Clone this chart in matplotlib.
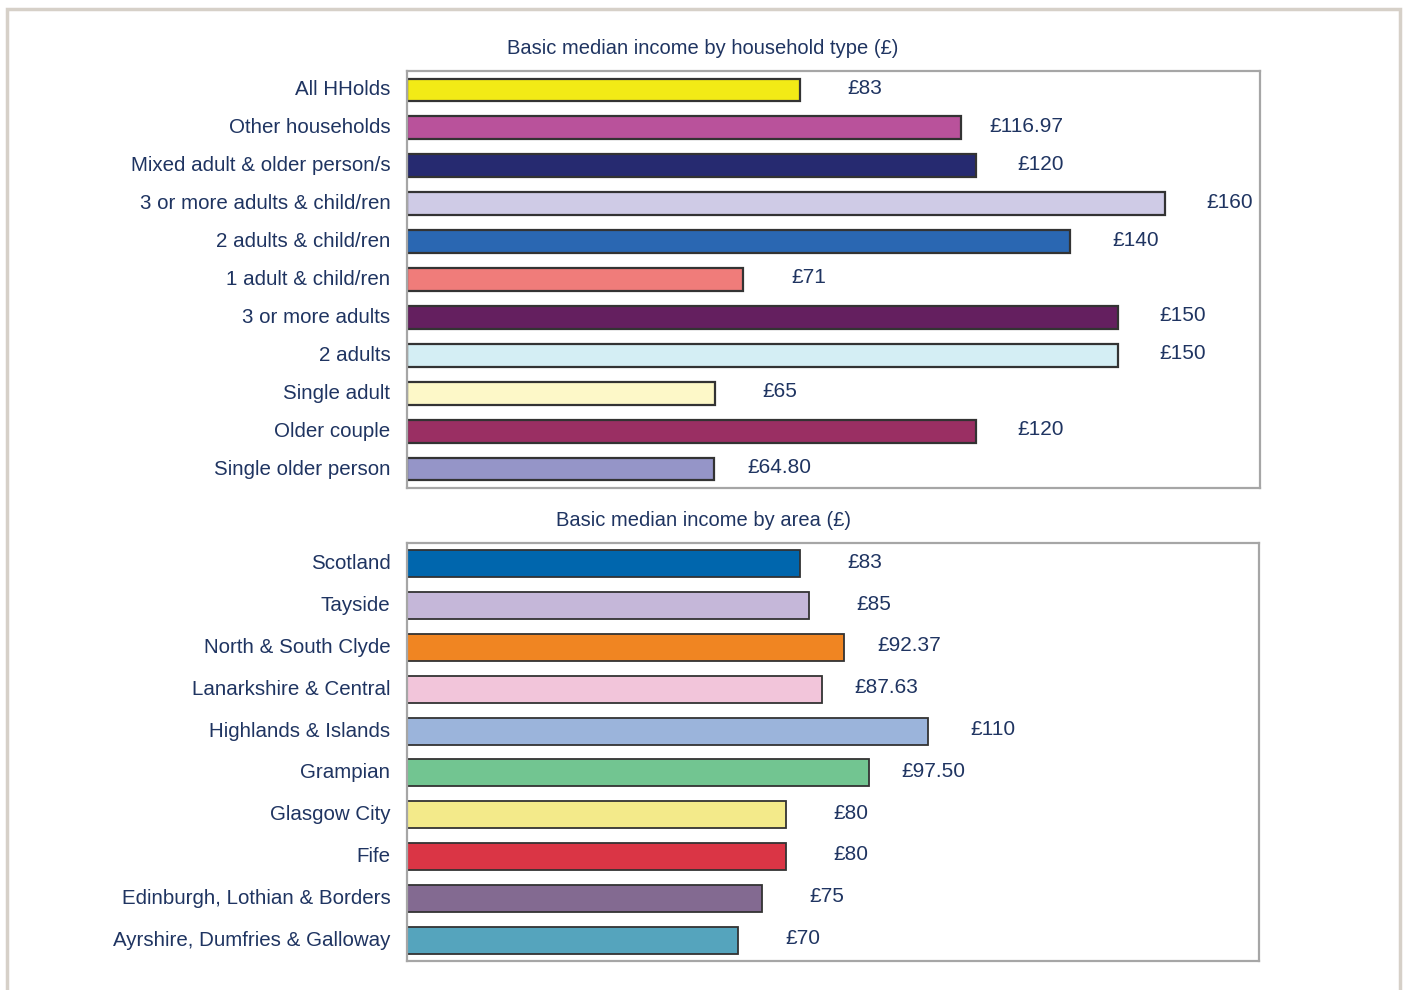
import matplotlib
matplotlib.use("Agg")
import matplotlib.pyplot as plt
from matplotlib.patches import Rectangle

# ---------- data ----------
hh_categories = ["All HHolds", "Other households", "Mixed adult & older person/s",
                 "3 or more adults & child/ren", "2 adults & child/ren", "1 adult & child/ren",
                 "3 or more adults", "2 adults", "Single adult", "Older couple",
                 "Single older person"]
hh_values = [83, 116.97, 120, 160, 140, 71, 150, 150, 65, 120, 64.80]
hh_labels = ["£83", "£116.97", "£120", "£160", "£140", "£71", "£150", "£150", "£65",
             "£120", "£64.80"]
hh_colors = ["#f2ea16", "#b9529b", "#262a70", "#cfcbe6", "#2a67b2", "#f07c7a",
             "#641f5f", "#d4eef4", "#fdf8c8", "#9a2f63", "#9595c8"]

area_categories = ["Scotland", "Tayside", "North & South Clyde", "Lanarkshire & Central",
                   "Highlands & Islands", "Grampian", "Glasgow City", "Fife",
                   "Edinburgh, Lothian & Borders", "Ayrshire, Dumfries & Galloway"]
area_values = [83, 85, 92.37, 87.63, 110, 97.50, 80, 80, 75, 70]
area_labels = ["£83", "£85", "£92.37", "£87.63", "£110", "£97.50", "£80", "£80", "£75", "£70"]
area_colors = ["#0066ad", "#c5b7d9", "#f08522", "#f2c5da", "#9bb4db", "#72c591",
               "#f3ea8a", "#da3545", "#836a91", "#55a4bd"]

title_hh = "Basic median income by household type (£)"
title_area = "Basic median income by area (£)"

# ---------- style ----------
plt.rcParams['font.family'] = ['Liberation Sans', 'DejaVu Sans']
TXT = "#1f3461"

fig = plt.figure(figsize=(14.03, 9.90), dpi=100)
fig.patch.set_facecolor("white")

# outer frame
fig.add_artist(Rectangle((6.5 / 1403, -0.05), (1399.5 - 6.5) / 1403, 1.05 - 8.5 / 990,
                         transform=fig.transFigure, fill=False, edgecolor="#d6d0c8",
                         linewidth=2.5, zorder=0))


def draw(ax, cats, vals, labels, colors, height, lw):
    n = len(cats)
    y = list(range(n))
    ax.barh(y, vals, height=height, color=colors, edgecolor="#333333", linewidth=lw, zorder=2)
    for yi, v, lab in zip(y, vals, labels):
        ax.text(v + 13.7, yi - 0.04, lab, ha="center", va="center", fontsize=15, color=TXT)
    ax.set_xlim(0, 180)
    ax.set_ylim(n - 0.5, -0.5)
    ax.set_yticks(y)
    ax.set_yticklabels(cats, fontsize=14.8, color=TXT, va="center")
    for t in ax.get_yticklabels():
        t.set_y(t.get_position()[1])
    ax.tick_params(axis="y", length=0, pad=12)
    ax.set_xticks([])
    for s in ax.spines.values():
        s.set_color("#a6a6a6")
        s.set_linewidth(1.6)


ax1 = fig.add_axes([407 / 1403, 1 - 488 / 990, 853 / 1403, 417 / 990])
draw(ax1, hh_categories, hh_values, hh_labels, hh_colors, 0.6, 1.6)
ax2 = fig.add_axes([407 / 1403, 1 - 961 / 990, 852 / 1403, 418 / 990])
draw(ax2, area_categories, area_values, area_labels, area_colors, 0.65, 1.3)

fig.text(703 / 1403, 1 - 49 / 990, title_hh, ha="center", va="center", fontsize=14.5, color=TXT)
fig.text(703 / 1403, 1 - 521 / 990, title_area, ha="center", va="center", fontsize=14.5, color=TXT)

fig.savefig("out.png", dpi=100, facecolor="white")
